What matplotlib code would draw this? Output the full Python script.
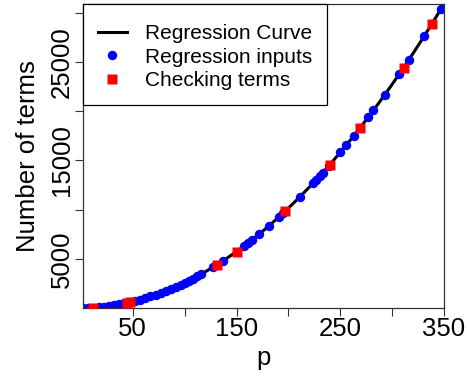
import matplotlib
matplotlib.use("Agg")
import matplotlib.pyplot as plt

plt.rcParams['font.family'] = ['Liberation Sans', 'DejaVu Sans']

# Regression curve
curve_p = [2, 10, 20, 30, 40, 50, 60, 70, 80, 90, 100, 110, 120, 130, 140, 150,
           160, 170, 180, 190, 200, 210, 220, 230, 240, 250, 260, 270, 280, 290,
           300, 310, 320, 330, 340, 350]
curve_y = [3, 33, 116, 248, 431, 663, 946, 1278, 1661, 2093, 2576, 3108, 3691,
           4323, 5006, 5738, 6521, 7353, 8236, 9168, 10151, 11183, 12266, 13398,
           14581, 15813, 17096, 18428, 19811, 21243, 22726, 24258, 25841, 27473,
           29156, 30888]

# Regression inputs (blue)
input_p = [2, 7, 12, 17, 22, 27, 32, 37, 42, 47, 52, 57, 62, 67, 72, 77, 82, 87,
           92, 96, 100, 104, 108, 112, 116, 127, 137, 157, 161, 165, 172, 181,
           191, 195, 211, 224, 227, 230, 233, 239, 250, 256, 263, 277, 282, 293,
           307, 316, 331, 347]
input_y = [3, 18, 46, 86, 138, 203, 281, 371, 473, 588, 716, 856, 1008, 1173,
           1351, 1541, 1743, 1958, 2186, 2377, 2576, 2783, 2998, 3221, 3452, 4128,
           4796, 6281, 6602, 6931, 7526, 8327, 9264, 9653, 11289, 12713, 13053,
           13398, 13748, 14460, 15813, 16577, 17490, 19391, 20093, 21683, 23793,
           25202, 27639, 30363]

# Checking terms (red)
check_p = [12, 44, 47, 131, 150, 197, 240, 269, 311, 338]
check_y = [46, 518, 588, 4389, 5738, 9851, 14581, 18293, 24414, 28815]

x_ticks = [50, 100, 150, 200, 250, 300, 350]
x_labels = ['50', '', '150', '', '250', '', '350']
y_ticks = [5000, 10000, 15000, 20000, 25000, 30000]
y_labels = ['5000', '', '15000', '', '25000', '']

fig = plt.figure(figsize=(4.67, 3.81), dpi=100)
ax = fig.add_axes([83/467, 1 - 308/381, (444-83)/467, (308-4)/381])

ax.plot(curve_p, curve_y, color='black', lw=2.2, label='Regression Curve', zorder=1)
ax.plot(input_p, input_y, 'o', color='#0000ff', ms=6.8, mec='none',
        label='Regression inputs', zorder=2)
ax.plot(check_p, check_y, 's', color='#ff0000', ms=6.8, mec='none',
        label='Checking terms', zorder=3)

ax.set_xlim(2, 350)
ax.set_ylim(3, 30888)
ax.set_xticks(x_ticks)
ax.set_xticklabels(x_labels)
ax.set_yticks(y_ticks)
ax.set_yticklabels(y_labels, rotation=90, va='center')
ax.tick_params(axis='both', direction='out', length=5.8, width=0.8,
               labelsize=18.5, pad=1, color='#333333')
for s in ax.spines.values():
    s.set_linewidth(0.9)
    s.set_color('#333333')

ax.set_xlabel('p', fontsize=18.5, labelpad=3)
ax.set_ylabel('Number of terms', fontsize=18.5, labelpad=7)

leg = ax.legend(loc='upper left', bbox_to_anchor=(0, 1), borderaxespad=0,
                fontsize=15, frameon=True, fancybox=False, borderpad=0.7,
                labelspacing=0.22, handlelength=1.42, handletextpad=0.85,
                framealpha=1, title=' ', title_fontsize=1)
leg.get_frame().set_edgecolor('black')
leg.get_frame().set_linewidth(0.9)

fig.savefig('out.png', dpi=100)
